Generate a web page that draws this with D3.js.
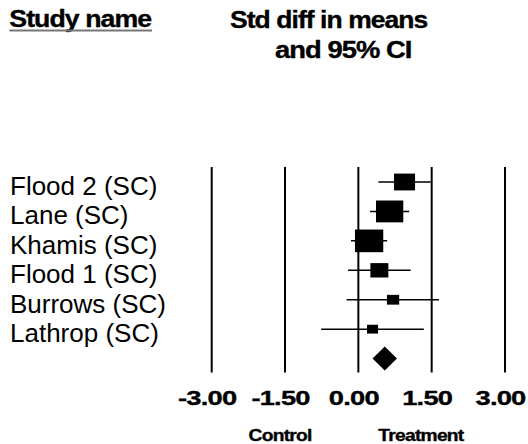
<!DOCTYPE html>
<html>
<head>
<meta charset="utf-8">
<script src="https://cdn.jsdelivr.net/npm/d3@7"></script>
<style>
    body { margin: 0; background: #fff; }
    svg { display: block; font-family: "Liberation Sans", Arial, sans-serif; }
</style>
</head>
<body>
<div id="viz"></div>
<script>
    const studies = ["Flood 2 (SC)", "Lane (SC)", "Khamis (SC)", "Flood 1 (SC)", "Burrows (SC)", "Lathrop (SC)"];
    const estimates = [0.945, 0.64, 0.22, 0.43, 0.71, 0.29];
    const lowers = [0.41, 0.24, -0.15, -0.21, -0.24, -0.76];
    const uppers = [1.48, 1.04, 0.59, 1.07, 1.65, 1.34];
    const weights = [17.1, 28.8, 31.0, 12.5, 5.8, 4.7];
    const summary = { est: 0.54, lower: 0.29, upper: 0.79 };
    const tickValues = [-3, -1.5, 0, 1.5, 3];
    const sideLabels = [["Control", -1.6], ["Treatment", 1.28]];

    const width = 528;
    const height = 444;

    const svg = d3.select("#viz")
        .append("svg")
        .attr("width", width)
        .attr("height", height);

    const x = d3.scaleLinear().domain([-3, 3]).range([211.7, 505]);

    const rows = d3.range(studies.length + 1);
    const y = d3.scalePoint().domain(rows).range([182, 358.6]);

    const boxW = d3.scaleSqrt().domain([0, 31]).range([0, 28.3]);

    //bold text: wide glyphs, tight spacing, like the original export
    function boldText(str, px, py, size, sx, spacing, anchor) {
        return svg.append("text")
            .attr("transform", `translate(${px},${py}) scale(${sx},1)`)
            .attr("text-anchor", anchor || "start")
            .attr("font-weight", "bold")
            .attr("font-size", size)
            .attr("letter-spacing", spacing)
            .attr("stroke", "#000")
            .attr("stroke-width", 0.35)
            .text(str);
    }

    //headers
    boldText("Study name", 9.3, 27, 23, 1.16, -0.8);
    svg.append("line")
        .attr("x1", 9.3).attr("x2", 152)
        .attr("y1", 30.5).attr("y2", 30.5)
        .attr("stroke", "#777")
        .attr("stroke-width", 2);
    boldText("Std diff in means", 230, 28, 23, 1.15, -0.8);
    boldText("and 95% CI", 275, 57.5, 23, 1.19, -0.8);

    //vertical reference lines
    svg.append("g")
        .selectAll("line")
        .data(tickValues)
        .join("line")
        .attr("x1", d => x(d))
        .attr("x2", d => x(d))
        .attr("y1", 167)
        .attr("y2", 372.5)
        .attr("stroke", "#000")
        .attr("stroke-width", 2);

    //tick labels
    tickValues.forEach(t => boldText(t.toFixed(2), x(t) - 4.5, 405, 21, 1.3, -0.6, "middle"));

    sideLabels.forEach(([label, v]) => boldText(label, x(v), 441.3, 16, 1.2, -0.6, "middle"));

    //study names
    svg.append("g")
        .selectAll("text")
        .data(studies)
        .join("text")
        .attr("x", 10)
        .attr("y", (d, i) => y(i) + 13)
        .attr("font-size", 26)
        .text(d => d);

    //confidence intervals
    svg.append("g")
        .selectAll("line")
        .data(studies)
        .join("line")
        .attr("x1", (d, i) => x(lowers[i]))
        .attr("x2", (d, i) => x(uppers[i]))
        .attr("y1", (d, i) => y(i))
        .attr("y2", (d, i) => y(i))
        .attr("stroke", "#000")
        .attr("stroke-width", 1.5);

    //weight boxes
    svg.append("g")
        .selectAll("rect")
        .data(studies)
        .join("rect")
        .attr("x", (d, i) => x(estimates[i]) - boxW(weights[i]) / 2)
        .attr("y", (d, i) => y(i) - boxW(weights[i]) * 0.4)
        .attr("width", (d, i) => boxW(weights[i]))
        .attr("height", (d, i) => boxW(weights[i]) * 0.8)
        .attr("fill", "#000");

    //summary diamond
    const sy = y(studies.length);
    svg.append("path")
        .attr("d", `M${x(summary.lower)},${sy}L${x(summary.est)},${sy - 12}L${x(summary.upper)},${sy}L${x(summary.est)},${sy + 12}Z`)
        .attr("fill", "#000");
</script>
</body>
</html>
